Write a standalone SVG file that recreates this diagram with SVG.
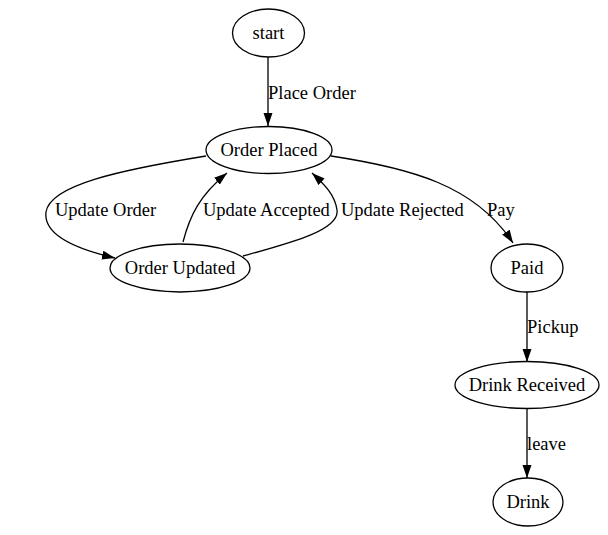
<svg xmlns="http://www.w3.org/2000/svg" width="608" height="535" viewBox="0 0 608 535">
<style>
.node ellipse{fill:#fff;stroke:#000;stroke-width:1.3}
text{font-family:"Liberation Serif","Times New Roman",serif;font-size:18.5px;fill:#000}
.node text{text-anchor:middle}
.edge path{fill:none;stroke:#000;stroke-width:1.3}
</style>
<defs>
<marker id="arr" markerUnits="userSpaceOnUse" markerWidth="14" markerHeight="10" refX="13" refY="4.5" orient="auto">
<path d="M0,0 L13,4.5 L0,9 Z" fill="#000"/>
</marker>
</defs>
<rect width="608" height="535" fill="#fff"/>
<g id="edges" class="edge">
<path d="M268,57 L268,126" marker-end="url(#arr)"/>
<text x="268" y="99">Place Order</text>
<path d="M206,156 C120,170 50,185 46,212 C43,236 80,250 115,258" marker-end="url(#arr)"/>
<text x="55" y="216">Update Order</text>
<path d="M183,242 C190,215 200,195 227,173" marker-end="url(#arr)"/>
<text x="203" y="216">Update Accepted</text>
<path d="M243,256 C290,243 340,230 337,210 C335,195 325,185 312,173" marker-end="url(#arr)"/>
<text x="341" y="216">Update Rejected</text>
<path d="M331,156 C410,168 475,185 513,243" marker-end="url(#arr)"/>
<text x="487" y="216">Pay</text>
<path d="M527,292 L527,362" marker-end="url(#arr)"/>
<text x="527" y="333">Pickup</text>
<path d="M527,408 L527,478" marker-end="url(#arr)"/>
<text x="527" y="450">leave</text>
</g>
<g id="start" class="node"><ellipse cx="268.5" cy="33" rx="36" ry="24"/><text x="268.5" y="39">start</text></g>
<g id="order_placed" class="node"><ellipse cx="269" cy="150" rx="63" ry="23.5"/><text x="269" y="156">Order Placed</text></g>
<g id="order_updated" class="node"><ellipse cx="180" cy="268" rx="70" ry="24"/><text x="180" y="274">Order Updated</text></g>
<g id="paid" class="node"><ellipse cx="527" cy="268" rx="36" ry="24"/><text x="527" y="274">Paid</text></g>
<g id="drink_received" class="node"><ellipse cx="527" cy="385" rx="72" ry="23.5"/><text x="527" y="391">Drink Received</text></g>
<g id="drink" class="node"><ellipse cx="528" cy="502" rx="35" ry="24"/><text x="528" y="508">Drink</text></g>
</svg>
